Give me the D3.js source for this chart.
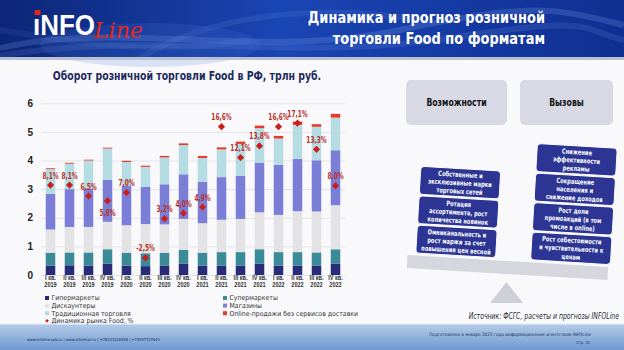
<!DOCTYPE html>
<html lang="ru">
<head>
<meta charset="utf-8" />
<title>Динамика и прогноз розничной торговли Food по форматам</title>
<script src="https://cdnjs.cloudflare.com/ajax/libs/d3/7.8.5/d3.min.js"></script>
<style>
  body { margin: 0; background: #fff; }
  svg { display: block; font-family: "Liberation Sans Narrow", "DejaVu Sans Condensed", "Liberation Sans", sans-serif; }
  .grid line { stroke: #e4e4e8; }
  .grid .domain { display: none; }
  .y-axis text { font-size: 10px; font-weight: bold; fill: #222; }
  .x-axis text { font-size: 6.5px; font-weight: bold; fill: #333; }
  .legend text { font-size: 6.9px; fill: #333; }
  .pct { font-size: 8.8px; font-weight: bold; fill: #b8302a; }
  .box-text { font-size: 7px; font-weight: bold; fill: #fff; }
</style>
</head>
<body>
<div id="slide"></div>
<script>
  // ---- data ----
  const quarters = ["I кв.", "II кв.", "III кв.", "IV кв.", "I кв.", "II кв.", "III кв.", "IV кв.",
                    "I кв.", "II кв.", "III кв.", "IV кв.", "I кв.", "II кв.", "III кв.", "IV кв."];
  const years = ["2019", "2019", "2019", "2019", "2020", "2020", "2020", "2020",
                 "2021", "2021", "2021", "2021", "2022", "2022", "2022", "2022"];
  // трлн руб. по форматам
  const hyper   = [0.33, 0.34, 0.33, 0.40, 0.33, 0.31, 0.33, 0.40, 0.33, 0.33, 0.33, 0.40, 0.33, 0.33, 0.33, 0.40];
  const superm  = [0.45, 0.45, 0.46, 0.50, 0.45, 0.45, 0.45, 0.48, 0.45, 0.47, 0.47, 0.50, 0.47, 0.47, 0.46, 0.50];
  const disc    = [0.81, 0.89, 0.89, 0.96, 0.96, 1.02, 0.99, 1.08, 1.03, 1.13, 1.16, 1.29, 1.30, 1.43, 1.43, 1.54];
  const shops   = [1.24, 1.32, 1.34, 1.46, 1.38, 1.30, 1.40, 1.56, 1.45, 1.49, 1.51, 1.74, 1.75, 1.83, 1.79, 1.92];
  const trad    = [0.87, 0.89, 0.98, 1.10, 0.83, 0.70, 0.94, 1.02, 0.83, 0.97, 1.11, 1.20, 0.92, 1.19, 1.17, 1.14];
  const online  = [0.03, 0.03, 0.03, 0.03, 0.04, 0.04, 0.05, 0.06, 0.07, 0.07, 0.08, 0.09, 0.09, 0.11, 0.09, 0.13];
  // Динамика рынка Food, %
  const growth  = [8.1, 8.1, 6.5, 5.8, 7.0, -2.5, 3.2, 4.0, 4.9, 16.6, 12.1, 13.8, 16.6, 17.1, 13.3, 8.0];

  const seriesKeys = ["hyper", "superm", "disc", "shops", "trad", "online"];
  const seriesNames = {
    hyper: "Гипермаркеты", superm: "Супермаркеты", disc: "Дискаунтеры",
    shops: "Магазины", trad: "Традиционная торговля", online: "Online-продажи без сервисов доставки"
  };
  const colors = {
    hyper: "#272b78", superm: "#3a8b97", disc: "#e3e3e5",
    shops: "#7b7ed6", trad: "#b6dce3", online: "#e8382a"
  };

  const leftBoxes = [
    ["Собственные и", "эксклюзивные марки", "торговых сетей"],
    ["Ротация", "ассортимента, рост", "количества новинок"],
    ["Омниканальность и", "рост маржи за счет", "повышения цен весной"]
  ];
  const rightBoxes = [
    ["Снижение", "эффективности", "рекламы"],
    ["Сокращение", "населения и", "снижение доходов"],
    ["Рост доли", "промоакций (в том", "числе в online)"],
    ["Рост себестоимости", "и чувствительности к", "ценам"]
  ];

  const periods = quarters.map((q, i) => q + "|" + years[i]);
  const rows = periods.map((p, i) => ({
    period: p, hyper: hyper[i], superm: superm[i], disc: disc[i],
    shops: shops[i], trad: trad[i], online: online[i], growth: growth[i]
  }));

  // no narrow font installed: squeeze text horizontally instead
  function condense(sel, k) {
    sel.each(function () {
      const w = this.getComputedTextLength();
      this.setAttribute("textLength", w * k);
      this.setAttribute("lengthAdjust", "spacingAndGlyphs");
    });
  }

  const W = 624, H = 350;
  const svg = d3.select("#slide").append("svg").attr("width", W).attr("height", H);
  const defs = svg.append("defs");

  // ---- background / header / footer ----
  svg.append("rect").attr("width", W).attr("height", H).attr("fill", "#f9f9fb");

  const hg = defs.append("linearGradient").attr("id", "hdr").attr("x1", 0).attr("x2", 1).attr("y1", 0).attr("y2", 0);
  hg.append("stop").attr("offset", 0).attr("stop-color", "#0c2577");
  hg.append("stop").attr("offset", 0.45).attr("stop-color", "#1a45b4");
  hg.append("stop").attr("offset", 1).attr("stop-color", "#0f2f92");
  svg.append("rect").attr("width", W).attr("height", 58).attr("fill", "url(#hdr)");
  // light waves in the header
  const waves = [
    "M0,48 C120,20 260,60 400,30 S560,10 624,25",
    "M0,56 C150,30 300,62 450,38 S580,30 624,40",
    "M140,58 C220,10 330,5 420,20",
    "M0,30 C90,45 160,55 250,40"
  ];
  svg.append("g").selectAll("path").data(waves).join("path")
    .attr("d", d => d).attr("fill", "none").attr("stroke", "#9fc0ff")
    .attr("stroke-opacity", (d, i) => [0.18, 0.12, 0.1, 0.08][i]).attr("stroke-width", 6);
  svg.append("ellipse").attr("cx", 150).attr("cy", 45).attr("rx", 110).attr("ry", 22)
    .attr("fill", "#4a7be0").attr("opacity", 0.18);
  svg.append("rect").attr("y", 57).attr("width", W).attr("height", 3).attr("fill", "#b9c0cf");

  // logo
  svg.append("text").attr("x", 33).attr("y", 35).text("ıNFO")
    .attr("font-family", "Liberation Sans, Arial, sans-serif").attr("font-weight", "bold")
    .attr("font-size", 29).attr("fill", "#fff").attr("textLength", 62).attr("lengthAdjust", "spacingAndGlyphs");
  svg.append("rect").attr("x", 34.5).attr("y", 10).attr("width", 6).attr("height", 5).attr("fill", "#e3261b");
  svg.append("text").attr("x", 94).attr("y", 38).text("Line")
    .attr("font-family", "DejaVu Serif, serif").attr("font-style", "italic")
    .attr("font-size", 22).attr("fill", "#e3261b");

  const hdrText = svg.append("g").attr("font-size", 15.5).attr("font-weight", "bold").attr("fill", "#fff")
    .attr("text-anchor", "end")
    .selectAll("text").data(["Динамика и прогноз розничной", "торговли Food по форматам"]).join("text")
    .attr("x", 545).attr("y", (d, i) => 23 + i * 21).text(d => d);
  condense(hdrText, 0.93);

  const fg = defs.append("linearGradient").attr("id", "ftr").attr("x1", 0).attr("x2", 0).attr("y1", 0).attr("y2", 1);
  fg.append("stop").attr("offset", 0).attr("stop-color", "#b7cde9");
  fg.append("stop").attr("offset", 1).attr("stop-color", "#6f9ad3");
  svg.append("rect").attr("y", 323).attr("width", W).attr("height", H - 323).attr("fill", "url(#ftr)");
  svg.append("rect").attr("y", 323).attr("width", W).attr("height", 1.5).attr("fill", "#eef3fa");
  svg.append("text").attr("x", 27).attr("y", 341).attr("font-size", 4).attr("fill", "#1b2a5a")
    .text("www.infoline.spb.ru | www.inforetail.ru | +78123226848 | +74957727640");
  svg.append("text").attr("x", 591).attr("y", 336).attr("font-size", 4.6).attr("fill", "#1b2a5a")
    .attr("text-anchor", "end").text("Подготовлено в январе 2023 года информационным агентством INFOLine");
  svg.append("text").attr("x", 590).attr("y", 343.5).attr("font-size", 4).attr("fill", "#1b2a5a")
    .attr("text-anchor", "end").text("Стр. 31");

  // ---- chart ----
  const title = svg.append("text").attr("x", 187).attr("y", 80).attr("text-anchor", "middle")
    .attr("font-size", 13).attr("font-weight", "bold").attr("fill", "#1d2a5e")
    .text("Оборот розничной торговли Food в РФ, трлн руб.");
  condense(title, 0.8);

  const x = d3.scaleBand().domain(periods).range([41, 345]).paddingInner(0.5).paddingOuter(0.25);
  const y = d3.scaleLinear().domain([0, 6]).range([275, 103.3]);
  const y2 = d3.scaleLinear().domain([-5, 20]).range([275, 103.3]);

  svg.append("g").attr("class", "grid").attr("transform", "translate(41,0)")
    .call(d3.axisLeft(y).ticks(6).tickSize(-304).tickFormat(""));

  svg.append("g").attr("class", "y-axis").attr("transform", "translate(35,0)")
    .call(d3.axisLeft(y).ticks(6).tickSize(0).tickPadding(2))
    .call(g => g.select(".domain").remove());

  const stacked = d3.stack().keys(seriesKeys)(rows);
  svg.append("g").selectAll("g").data(stacked).join("g")
    .attr("fill", d => colors[d.key])
    .selectAll("rect").data(d => d).join("rect")
    .attr("x", d => x(d.data.period))
    .attr("width", x.bandwidth())
    .attr("y", d => y(d[1]))
    .attr("height", d => y(d[0]) - y(d[1]));

  const xAxis = svg.append("g").attr("class", "x-axis").attr("transform", "translate(0,276)")
    .call(d3.axisBottom(x).tickSize(0).tickPadding(4));
  xAxis.select(".domain").remove();
  xAxis.selectAll(".tick text").each(function (d) {
    const [q, yr] = d.split("|");
    const t = d3.select(this).text(null);
    t.append("tspan").attr("x", 0).attr("dy", 0).text(q);
    t.append("tspan").attr("x", 0).attr("dy", "1.15em").text(yr);
  });
  condense(xAxis.selectAll("tspan"), 0.85);

  const fmt = d3.formatLocale({ decimal: ",", thousands: " ", grouping: [3], currency: ["", ""], minus: "-" }).format(".1f");
  const below = new Set([3]);
  const diamond = d3.symbol(d3.symbolSquare, 26);
  svg.append("g").selectAll("path").data(rows).join("path")
    .attr("d", diamond)
    .attr("fill", "#c91f1c")
    .attr("transform", d => `translate(${x(d.period) + x.bandwidth() / 2},${y2(d.growth)}) rotate(45)`);
  const pct = svg.append("g").selectAll("text").data(rows).join("text")
    .attr("class", "pct")
    .attr("text-anchor", "middle")
    .attr("x", d => x(d.period) + x.bandwidth() / 2)
    .attr("y", (d, i) => y2(d.growth) + (below.has(i) ? 15 : -6.5))
    .text(d => fmt(d.growth) + "%");
  condense(pct, 0.74);

  // legend
  const legendItems = [
    { key: "hyper", col: 0, row: 0 }, { key: "superm", col: 1, row: 0 },
    { key: "disc", col: 0, row: 1 }, { key: "shops", col: 1, row: 1 },
    { key: "trad", col: 0, row: 2 }, { key: "online", col: 1, row: 2 },
    { key: "growth", col: 0, row: 3 }
  ];
  const lg = svg.append("g").attr("class", "legend").selectAll("g").data(legendItems).join("g")
    .attr("transform", d => `translate(${d.col ? 225 : 47},${298 + d.row * 7.6})`);
  lg.filter(d => d.key !== "growth").append("rect")
    .attr("x", -2).attr("y", -2).attr("width", 4).attr("height", 4).attr("fill", d => colors[d.key]);
  lg.filter(d => d.key === "growth").append("path")
    .attr("d", d3.symbol(d3.symbolSquare, 7)).attr("transform", "rotate(45)").attr("fill", "#c91f1c");
  lg.append("text").attr("x", 4.5).attr("dy", "0.35em")
    .text(d => d.key === "growth" ? "Динамика рынка Food, %" : seriesNames[d.key]);

  // ---- right diagram ----
  const head = [{ x: 406, w: 101, t: "Возможности" }, { x: 520, w: 93, t: "Вызовы" }];
  const hd = svg.append("g").selectAll("g").data(head).join("g");
  hd.append("rect").attr("x", d => d.x).attr("y", 80).attr("width", d => d.w).attr("height", 45)
    .attr("rx", 5).attr("fill", "#d9d9e6");
  const hdt = hd.append("text").attr("x", d => d.x + d.w / 2).attr("y", 106).attr("text-anchor", "middle")
    .attr("font-size", 10).attr("font-weight", "bold").attr("fill", "#111").text(d => d.t);
  condense(hdt, 0.86);

  svg.append("path").attr("d", "M490,303 L523,303 L506.5,282 Z").attr("fill", "#cfcfd8");

  const scaleG = svg.append("g").attr("transform", "rotate(3.4,507,268)");
  scaleG.append("rect").attr("x", 407).attr("y", 261).attr("width", 201).attr("height", 13).attr("fill", "#d6d6de");

  function drawStack(items, cx, bottom) {
    const g = scaleG.append("g");
    const n = items.length;
    const bx = g.selectAll("g").data(items).join("g")
      .attr("transform", (d, i) => `translate(${cx},${bottom - (n - i) * 29.5})`);
    bx.append("rect").attr("x", -40).attr("y", 0).attr("width", 80).attr("height", 28)
      .attr("rx", 4).attr("fill", "#2c3594").attr("stroke", "#fff").attr("stroke-width", 1);
    const ts = bx.append("text").attr("class", "box-text").attr("text-anchor", "middle")
      .selectAll("tspan").data(d => d).join("tspan")
      .attr("x", 0).attr("y", (d, i) => 8.5 + i * 8.3).text(d => d);
    condense(ts, 0.82);
  }
  drawStack(leftBoxes, 455, 260);
  drawStack(rightBoxes, 570, 260);

  const src = svg.append("text").attr("y", 319)
    .attr("font-size", 8.5).attr("font-style", "italic").attr("fill", "#2b2b3a")
    .text("Источник: ФСГС, расчеты и прогнозы INFOLine");
  condense(src, 0.8);
  src.attr("x", 619 - +src.attr("textLength"));
</script>
</body>
</html>
